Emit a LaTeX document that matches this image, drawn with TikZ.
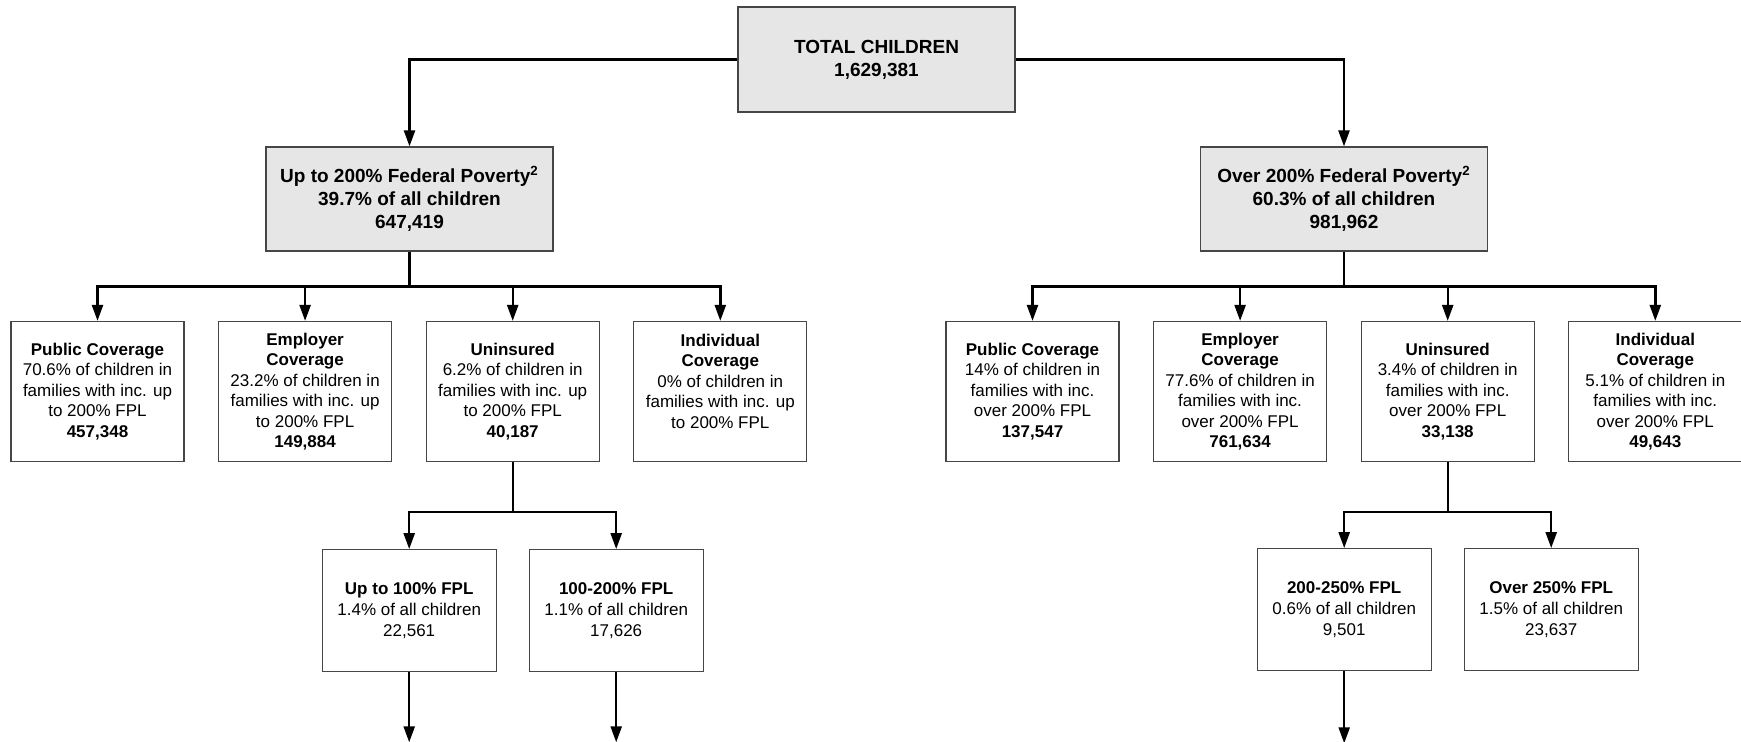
\documentclass[tikz,border=0pt]{standalone}
\usepackage{fontspec}
\setmainfont{Liberation Sans}
\usetikzlibrary{arrows.meta,positioning,calc}
\definecolor{GrisBorde}{RGB}{70,70,70}
\definecolor{GrisRelleno}{RGB}{230,230,230}
\tikzset{
  totalbox/.style={draw=GrisBorde, line width=0.6pt, fill=GrisRelleno, align=center,
    minimum width=#1, minimum height=52.5pt, font=\fontsize{9.5}{11.5}\selectfont\bfseries, inner sep=2pt},
  totalbox/.default=138.5pt,
  covbox/.style={draw=GrisBorde, line width=0.6pt, fill=white, align=center,
    minimum width=86.5pt, minimum height=70pt, font=\fontsize{8.5}{10.25}\selectfont, inner sep=2pt},
  fplbox/.style={draw=GrisBorde, line width=0.6pt, fill=white, align=center,
    minimum width=87pt, minimum height=61pt, font=\fontsize{8.5}{10.5}\selectfont, inner sep=2pt},
  flowarr/.style={-{Triangle[length=8pt, width=5.5pt]}, line width=1.2pt, black},
  busline/.style={line width=1.2pt, black},
}
\begin{document}
\begin{tikzpicture}[x=0.5pt, y=-0.5pt]
  \useasboundingbox (0,0) rectangle (1741,742);
  % ---- niveles superiores ----
  \node[totalbox] (tot) at (876.5,59.5) {TOTAL CHILDREN\\1,629,381};
  \node[totalbox=143.5pt, minimum height=52pt] (upto) at (409.5,199)
    {Up to 200\% Federal Poverty\textsuperscript{2}\\39.7\% of all children\\647,419};
  \node[totalbox=143.5pt, minimum height=52pt] (over) at (1344,199)
    {Over 200\% Federal Poverty\textsuperscript{2}\\60.3\% of all children\\981,962};
  \draw[flowarr] (tot.west) -| (upto.north);
  \draw[flowarr] (tot.east) -| (over.north);

  % ---- cobertura, hasta 200% FPL ----
  \node[covbox] (pubL) at (97.5,391.5)
    {\textbf{Public Coverage}\\70.6\% of children in\\families with inc. up\\to 200\% FPL\\\textbf{457,348}};
  \node[covbox, right=16.7pt of pubL] (empL)
    {\textbf{Employer}\\\textbf{Coverage}\\23.2\% of children in\\families with inc. up\\to 200\% FPL\\\textbf{149,884}};
  \node[covbox, right=16.7pt of empL] (uniL)
    {\textbf{Uninsured}\\6.2\% of children in\\families with inc. up\\to 200\% FPL\\\textbf{40,187}};
  \node[covbox, right=16.7pt of uniL] (indL)
    {\textbf{Individual}\\\textbf{Coverage}\\0\% of children in\\families with inc. up\\to 200\% FPL\\\mbox{}};

  % ---- cobertura, sobre 200% FPL ----
  \node[covbox] (pubR) at (1032.5,391.5)
    {\textbf{Public Coverage}\\14\% of children in\\families with inc.\\over 200\% FPL\\\textbf{137,547}};
  \node[covbox, right=16.7pt of pubR] (empR)
    {\textbf{Employer}\\\textbf{Coverage}\\77.6\% of children in\\families with inc.\\over 200\% FPL\\\textbf{761,634}};
  \node[covbox, right=16.7pt of empR] (uniR)
    {\textbf{Uninsured}\\3.4\% of children in\\families with inc.\\over 200\% FPL\\\textbf{33,138}};
  \node[covbox, right=16.7pt of uniR] (indR)
    {\textbf{Individual}\\\textbf{Coverage}\\5.1\% of children in\\families with inc.\\over 200\% FPL\\\textbf{49,643}};

  \coordinate (busL) at ($(upto.south)+(0,-17.5pt)$);
  \coordinate (busR) at ($(over.south)+(0,-17.5pt)$);
  \draw[busline] (upto.south) -- (busL);
  \draw[busline] (over.south) -- (busR);
  \foreach \n in {pubL,empL,uniL,indL}
    \draw[flowarr] (busL) -| (\n.north);
  \foreach \n in {pubR,empR,uniR,indR}
    \draw[flowarr] (busR) -| (\n.north);

  % ---- no asegurados por tramo ----
  \node[fplbox, below=43.5pt of uniL, xshift=-51.75pt] (lowA)
    {\textbf{Up to 100\% FPL}\\1.4\% of all children\\22,561};
  \node[fplbox, below=43.5pt of uniL, xshift=51.75pt] (lowB)
    {\textbf{100-200\% FPL}\\1.1\% of all children\\17,626};
  \node[fplbox, below=43pt of uniR, xshift=-51.75pt] (lowC)
    {\textbf{200-250\% FPL}\\0.6\% of all children\\9,501};
  \node[fplbox, below=43pt of uniR, xshift=51.75pt] (lowD)
    {\textbf{Over 250\% FPL}\\1.5\% of all children\\23,637};

  \coordinate (busUL) at ($(uniL.south)+(0,-25pt)$);
  \coordinate (busUR) at ($(uniR.south)+(0,-25pt)$);
  \draw[busline] (uniL.south) -- (busUL);
  \draw[busline] (uniR.south) -- (busUR);
  \draw[flowarr] (busUL) -| (lowA.north);
  \draw[flowarr] (busUL) -| (lowB.north);
  \draw[flowarr] (busUR) -| (lowC.north);
  \draw[flowarr] (busUR) -| (lowD.north);

  \coordinate (finA) at ($(lowA.south)+(0,-35pt)$);
  \coordinate (finB) at ($(lowB.south)+(0,-35pt)$);
  \coordinate (finC) at ($(lowC.south)+(0,-36pt)$);
  \draw[flowarr] (lowA.south) -- (finA);
  \draw[flowarr] (lowB.south) -- (finB);
  \draw[flowarr] (lowC.south) -- (finC);
\end{tikzpicture}
\end{document}
